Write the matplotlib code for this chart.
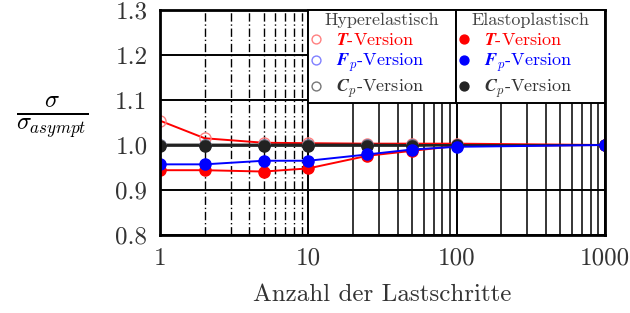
import matplotlib
matplotlib.use("Agg")
import matplotlib.pyplot as plt
from matplotlib.ticker import LogLocator

plt.rcParams["font.family"] = "cmr10"
plt.rcParams["mathtext.fontset"] = "cm"
plt.rcParams["axes.formatter.use_mathtext"] = True

# Lastschritte
steps = [1, 2, 5, 10, 25, 50, 100, 1000]

# hyperelastisch (offene Marker)
hyp_T = [1.054, 1.015, 1.005, 1.004, 1.003, 1.003, 1.003, 1.0]
hyp_Fp = [1.0, 1.0, 1.0, 1.0, 1.0, 1.0, 1.0, 1.0]
hyp_Cp = [1.001, 1.001, 1.001, 1.001, 1.001, 1.0, 1.0, 1.0]

# elastoplastisch (gefuellte Marker)
ep_T = [0.944, 0.944, 0.941, 0.948, 0.976, 0.987, 0.998, 1.0]
ep_Fp = [0.957, 0.957, 0.965, 0.965, 0.979, 0.990, 0.996, 1.0]
ep_Cp = [0.998, 0.998, 0.998, 0.998, 0.998, 0.998, 0.999, 1.0]

xticks = [1, 10, 100, 1000]
xticklabels = ["1", "10", "100", "1000"]
yticks = [0.8, 0.9, 1.0, 1.1, 1.2, 1.3]

fig = plt.figure(figsize=(6.3, 3.13), dpi=100)
ax = fig.add_axes([160 / 630, 1 - 235 / 313, 445 / 630, 225 / 313])

ax.set_xscale("log")
ax.set_xlim(1, 1000)
ax.set_ylim(0.8, 1.3)
ax.set_xticks(xticks)
ax.set_xticklabels(xticklabels)
ax.xaxis.set_minor_locator(LogLocator(base=10, subs=range(2, 10)))
ax.set_yticks(yticks)
ax.set_yticklabels([f"{v:.1f}" for v in yticks])
ax.tick_params(which="both", length=0, labelsize=18, pad=9, labelcolor="#333333")

ax.grid(which="major", color="black", lw=1.4)
ax.grid(which="minor", color="black", lw=1.1)
fig.canvas.draw()
for t in ax.xaxis.get_minor_ticks():
    if t.get_loc() < 10:
        t.gridline.set_linestyle((0, (6, 2, 1, 2)))
        t.gridline.set_linewidth(1.0)
ax.set_axisbelow(True)

for s in ax.spines.values():
    s.set_linewidth(2)

ms = 8
h_T, = ax.plot(steps, hyp_T, "-o", color="red", mfc="none", mec=(1, 0.5, 0.5), lw=1.4, ms=ms, mew=1)
h_Fp, = ax.plot(steps, hyp_Fp, "-o", color="blue", mfc="none", mec=(0.5, 0.5, 1), lw=1.4, ms=ms, mew=1)
h_Cp, = ax.plot(steps, hyp_Cp, "-o", color="#222222", mfc="none", mec="#777777", lw=1.4, ms=ms, mew=1)
e_T, = ax.plot(steps, ep_T, "-o", color="red", lw=1.4, ms=ms)
e_Cp, = ax.plot(steps, ep_Cp, "-o", color="#222222", lw=1.4, ms=ms)
e_Fp, = ax.plot(steps, ep_Fp, "-o", color="blue", lw=1.4, ms=ms)

labels = [r"$\mathbfit{T}$-Version", r"$\mathbfit{F}_p$-Version", r"$\mathbfit{C}_p$-Version"]
colors = ["red", "blue", "#333333"]

common = dict(loc="upper left", mode="expand", fancybox=False, framealpha=1,
              edgecolor="black", fontsize=13, title_fontsize=13,
              handlelength=0.6, handletextpad=0.8, borderaxespad=0,
              labelspacing=0.22, borderpad=0.15, markerscale=0.8)
leg1 = ax.legend([h_T, h_Fp, h_Cp], labels, title="Hyperelastisch",
                 bbox_to_anchor=(0.333, 0.0, 0.332, 1.0), **common)
leg1.get_frame().set_linewidth(1.4)
for txt, c in zip(leg1.get_texts(), colors):
    txt.set_color(c)
leg1.get_title().set_color("#444444")
for h in leg1.legend_handles:
    h.set_linestyle("none")
ax.add_artist(leg1)

leg2 = ax.legend([e_T, e_Fp, e_Cp], labels, title="Elastoplastisch",
                 bbox_to_anchor=(0.665, 0.0, 0.335, 1.0), **common)
leg2.get_frame().set_linewidth(1.4)
for txt, c in zip(leg2.get_texts(), colors):
    txt.set_color(c)
leg2.get_title().set_color("#444444")
for h in leg2.legend_handles:
    h.set_linestyle("none")

ax.set_xlabel("Anzahl der Lastschritte", fontsize=18, color="#333333", labelpad=10)
fig.text(52 / 630, 1 - 117 / 313, r"$\frac{\sigma}{\sigma_{asympt}}$", fontsize=25,
         ha="center", va="center")

fig.savefig("out.png", dpi=100)
